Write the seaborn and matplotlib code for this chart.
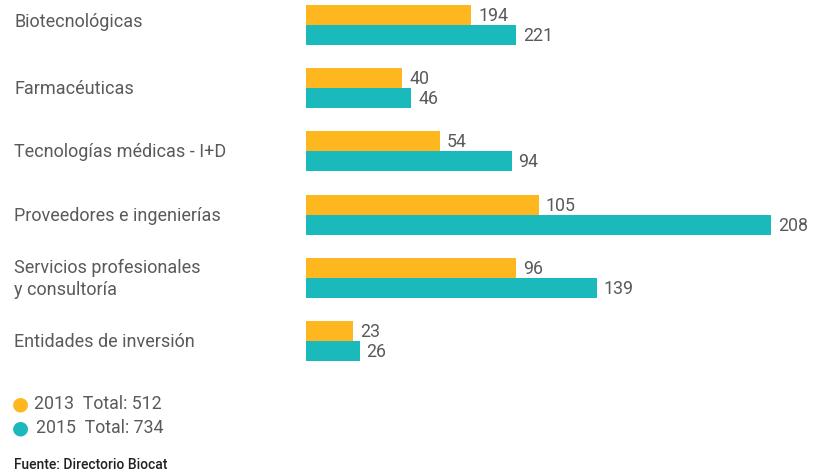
import matplotlib
matplotlib.use("Agg")
import matplotlib.pyplot as plt
import matplotlib.transforms as mtrans
import seaborn as sns
import pandas as pd

categories = ["Biotecnológicas", "Farmacéuticas", "Tecnologías médicas - I+D",
              "Proveedores e ingenierías", "Servicios profesionales\ny consultoría",
              "Entidades de inversión"]
years = ["2013", "2015"]
# bar lengths as drawn in the reference
bars_2013 = [74, 43, 60, 104, 94, 21]
bars_2015 = [94, 47, 92, 208, 130, 24]
# value labels as printed
labels_2013 = ["194", "40", "54", "105", "96", "23"]
labels_2015 = ["221", "46", "94", "208", "139", "26"]
totals = ["512", "734"]
colors = ["#FEB71E", "#19B9BC"]
source = "Fuente: Directorio Biocat"

sns.set_theme(style="white")
plt.rcParams["font.family"] = ["Roboto", "DejaVu Sans"]

W, H = 813, 477
fig = plt.figure(figsize=(W / 100, H / 100), dpi=100)
ax_left = 306 / W
ax = fig.add_axes([ax_left, 0, 1 - ax_left, 1])

df = pd.DataFrame({
    "cat": categories * 2,
    "year": ["2013"] * 6 + ["2015"] * 6,
    "val": bars_2013 + bars_2015,
})
sns.barplot(data=df, y="cat", x="val", hue="year", orient="h",
            palette=colors, width=0.633, dodge=True, saturation=1,
            legend=False, linewidth=0, ax=ax)

px_per_unit = 465 / 208
ax.set_xlim(0, (W - 306) / px_per_unit)
spacing = 63.2
top_c = 26
ax.set_ylim((H - top_c) / spacing, -top_c / spacing)
ax.axis("off")

txt_col = "#5a5a5a"
for cont, labs in zip(ax.containers, [labels_2013, labels_2015]):
    ax.bar_label(cont, labels=labs, padding=5, fontsize=12.8, color=txt_col)

# category labels
trans = mtrans.blended_transform_factory(fig.transFigure, ax.transData)
for i, c in enumerate(categories):
    ax.text(14 / W, i - (0.06 if i == 0 else 0), c, transform=trans,
            ha="left", va="center", fontsize=13, color=txt_col,
            linespacing=1.3)

# legend
for j, (y, col, tot) in enumerate(zip(years, colors, totals)):
    ypx = 404 + 24 * j
    fig.text(20 / W, 1 - ypx / H, "●", ha="center", va="center",
             fontsize=14, color=col, family=["DejaVu Sans"])
    fig.text((34 + 2 * j) / W, 1 - ypx / H, f"{y}  Total: {tot}", ha="left",
             va="center", fontsize=12.8, color=txt_col)

fig.text(14 / W, 1 - 465 / H, source, ha="left", va="center",
         fontsize=10, color="#222222", weight="medium")

fig.savefig("out.png", dpi=100, facecolor="white")
